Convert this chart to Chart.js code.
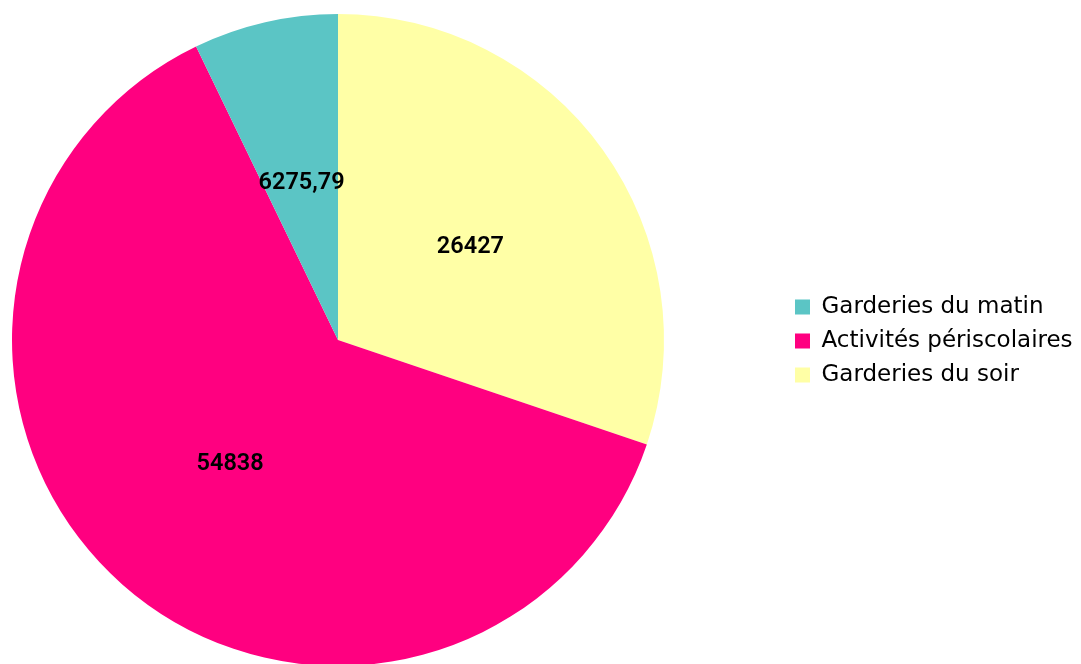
<!DOCTYPE html>
<html lang="fr">
<head>
    <meta charset="UTF-8">
    <title>Répartition</title>
    <script src="https://cdn.jsdelivr.net/npm/chart.js"></script>
    <style>
        html, body { margin: 0; padding: 0; background: #ffffff; overflow: hidden; }
        .chart-box { width: 1081px; height: 664px; position: relative; }
    </style>
</head>
<body>
    <div class="chart-box">
        <canvas id="pieChart"></canvas>
    </div>
    <script>
        // Data, in legend order
        const categories = ['Garderies du matin', 'Activités périscolaires', 'Garderies du soir'];
        const amounts = [6275.79, 54838, 26427];
        const valueLabels = ['6275,79', '54838', '26427'];
        const sliceColors = ['#5bc5c5', '#ff0080', '#ffffa6'];

        // The original goes counter-clockwise from 12 o'clock, so draw reversed
        const order = [2, 1, 0];

        // Pie placement in the picture
        const CX = 338, CY = 340, R = 326;

        // Put the pie and the legend where they sit in the reference
        const placePlugin = {
            id: 'place',
            afterLayout(chart) {
                const a = chart.chartArea;
                a.left = CX - R; a.right = CX + R;
                a.top = CY - R; a.bottom = CY + R;
                a.width = 2 * R; a.height = 2 * R;
                const lg = chart.legend;
                const w = lg.width;
                lg.left = 784; lg.right = 784 + w;
                lg.top = 9; lg.bottom = 673;
            }
        };

        // Value written in the middle of each slice
        const valuePlugin = {
            id: 'values',
            afterDatasetsDraw(chart) {
                const ctx = chart.ctx;
                const meta = chart.getDatasetMeta(0);
                ctx.save();
                ctx.font = '600 23.5px Roboto, "DejaVu Sans", sans-serif';
                ctx.fillStyle = '#000000';
                ctx.textAlign = 'center';
                ctx.textBaseline = 'middle';
                meta.data.forEach((arc, i) => {
                    const p = arc.getCenterPoint();
                    ctx.fillText(valueLabels[order[i]], p.x, p.y + 2);
                });
                ctx.restore();
            }
        };

        new Chart(document.getElementById('pieChart'), {
            type: 'pie',
            data: {
                labels: order.map(i => categories[i]),
                datasets: [{
                    data: order.map(i => amounts[i]),
                    backgroundColor: order.map(i => sliceColors[i]),
                    borderWidth: 0
                }]
            },
            options: {
                responsive: true,
                maintainAspectRatio: false,
                animation: false,
                plugins: {
                    legend: {
                        position: 'right',
                        labels: {
                            boxWidth: 15,
                            boxHeight: 15,
                            padding: 11,
                            color: '#000000',
                            font: { family: '"DejaVu Sans"', size: 23 },
                            sort: (a, b) => b.index - a.index
                        }
                    },
                    tooltip: { enabled: false }
                }
            },
            plugins: [placePlugin, valuePlugin]
        });
    </script>
</body>
</html>
